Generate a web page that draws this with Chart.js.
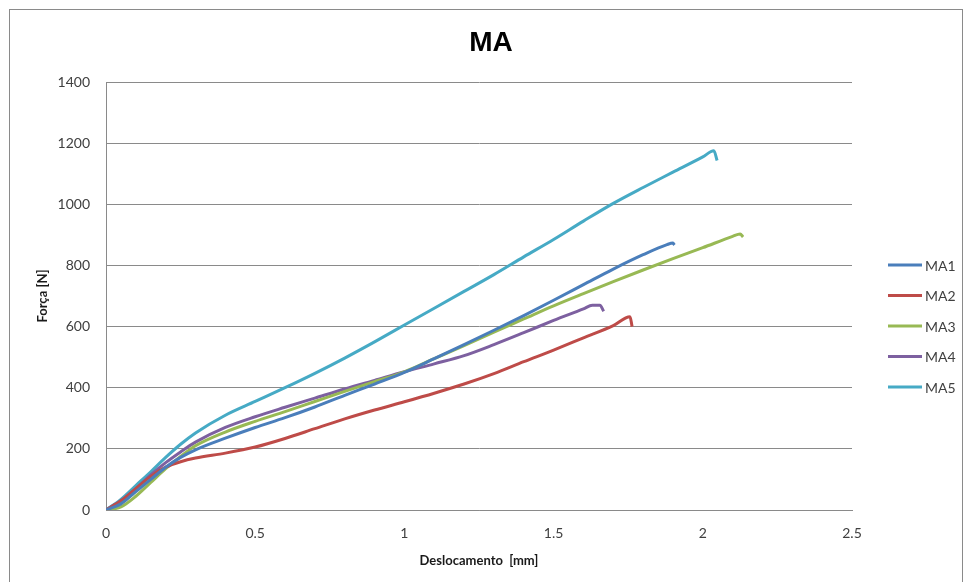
<!DOCTYPE html>
<html>
<head>
<meta charset="utf-8">
<script src="https://cdn.jsdelivr.net/npm/chart.js@4/dist/chart.umd.min.js"></script>
<style>
  html, body { margin: 0; padding: 0; background: #ffffff; }
  #wrap { width: 966px; height: 582px; position: relative; }
</style>
</head>
<body>
<div id="wrap"><canvas id="c" width="966" height="582"></canvas></div>
<script>
// Displacement [mm] and force [N] readings for each specimen
const ma1Disp  = [0, 0.05, 0.1, 0.15, 0.2, 0.25, 0.3, 0.4, 0.5, 0.6, 0.7, 0.8, 0.9, 1.0, 1.1, 1.2, 1.3, 1.4, 1.5, 1.6, 1.7, 1.8, 1.88, 1.9, 1.905];
const ma1Force = [0, 20, 60, 100, 140, 172, 197, 235, 270, 302, 337, 375, 412, 450, 495, 541, 588, 636, 686, 737, 788, 835, 868, 873, 867];

const ma2Disp  = [0, 0.05, 0.1, 0.15, 0.2, 0.25, 0.3, 0.4, 0.5, 0.6, 0.7, 0.8, 0.9, 1.0, 1.1, 1.2, 1.3, 1.4, 1.5, 1.6, 1.7, 1.756, 1.763];
const ma2Force = [0, 30, 70, 110, 140, 158, 170, 186, 206, 234, 266, 298, 327, 354, 382, 412, 446, 485, 523, 563, 603, 632, 600];

const ma3Disp  = [0, 0.05, 0.1, 0.15, 0.2, 0.25, 0.3, 0.4, 0.5, 0.6, 0.7, 0.8, 0.9, 1.0, 1.1, 1.2, 1.3, 1.4, 1.5, 1.6, 1.7, 1.8, 1.9, 2.0, 2.1, 2.125, 2.135];
const ma3Force = [0, 10, 45, 90, 135, 175, 210, 255, 290, 322, 355, 388, 420, 452, 495, 538, 582, 625, 668, 708, 747, 785, 822, 858, 895, 903, 893];

const ma4Disp  = [0, 0.05, 0.1, 0.15, 0.2, 0.25, 0.3, 0.4, 0.5, 0.6, 0.7, 0.8, 0.9, 1.0, 1.1, 1.2, 1.3, 1.4, 1.5, 1.6, 1.63, 1.655, 1.668];
const ma4Force = [0, 30, 70, 115, 155, 190, 222, 270, 305, 336, 366, 396, 424, 452, 478, 505, 541, 580, 620, 658, 670, 670, 650];

const ma5Disp  = [0, 0.05, 0.1, 0.15, 0.2, 0.25, 0.3, 0.4, 0.5, 0.6, 0.7, 0.8, 0.9, 1.0, 1.1, 1.2, 1.3, 1.4, 1.5, 1.6, 1.7, 1.8, 1.9, 2.0, 2.037, 2.048];
const ma5Force = [0, 35, 80, 125, 172, 215, 252, 310, 355, 400, 447, 497, 550, 605, 660, 715, 770, 828, 885, 945, 1003, 1055, 1105, 1155, 1175, 1143];

const seriesNames  = ['MA1', 'MA2', 'MA3', 'MA4', 'MA5'];
const seriesColors = ['#4A7EBB', '#BE4B48', '#98B954', '#7D60A0', '#46AAC5'];
const xTickValues  = [0, 0.5, 1, 1.5, 2, 2.5];
const yTickValues  = [0, 200, 400, 600, 800, 1000, 1200, 1400];

const dispSets  = [ma1Disp, ma2Disp, ma3Disp, ma4Disp, ma5Disp];
const forceSets = [ma1Force, ma2Force, ma3Force, ma4Force, ma5Force];

const datasets = seriesNames.map((name, i) => ({
  label: name,
  data: dispSets[i].map((d, k) => ({ x: d, y: forceSets[i][k] })),
  borderColor: seriesColors[i],
  backgroundColor: seriesColors[i],
  borderWidth: 3,
  pointRadius: 0,
  cubicInterpolationMode: 'monotone',
  fill: false
}));

const FONT = 'Lato, "Open Sans", "Liberation Sans", sans-serif';
const TEXT = '#404040';
const plainLabel = v => String(v);

// Outer frame around the whole chart
const framePlugin = {
  id: 'frame',
  beforeDraw(chart) {
    const ctx = chart.ctx;
    ctx.save();
    ctx.fillStyle = '#ffffff';
    ctx.fillRect(0, 0, chart.width, chart.height);
    ctx.strokeStyle = '#8a8a8a';
    ctx.lineWidth = 1;
    ctx.strokeRect(9.5, 9.5, 953, 600);
    ctx.restore();
  }
};

// Legend on the right: short line sample followed by the series name
const sideLegend = {
  id: 'sideLegend',
  afterDraw(chart) {
    const ctx = chart.ctx;
    ctx.save();
    chart.data.datasets.forEach((ds, i) => {
      const y = 265 + i * 30.5;
      ctx.strokeStyle = ds.borderColor;
      ctx.lineWidth = 3;
      ctx.beginPath();
      ctx.moveTo(888, y);
      ctx.lineTo(922, y);
      ctx.stroke();
      ctx.fillStyle = TEXT;
      ctx.font = '14px ' + FONT;
      ctx.textAlign = 'left';
      ctx.textBaseline = 'middle';
      ctx.fillText(ds.label, 925, y + 1);
    });
    ctx.restore();
  }
};

new Chart(document.getElementById('c'), {
  type: 'line',
  data: { datasets },
  plugins: [framePlugin, sideLegend],
  options: {
    responsive: false,
    animation: false,
    events: [],
    layout: { padding: { left: 16, right: 0, top: 0, bottom: 0 } },
    plugins: {
      legend: { display: false },
      tooltip: { enabled: false },
      title: {
        display: true,
        text: 'MA',
        color: '#000000',
        font: { family: '"Liberation Sans", Arial, sans-serif', size: 28, weight: 'bold', lineHeight: 1.2 },
        padding: { top: 26, bottom: 22.4 }
      }
    },
    scales: {
      x: {
        type: 'linear',
        min: 0,
        max: 2.5,
        afterBuildTicks(scale) { scale.ticks = xTickValues.map(v => ({ value: v })); },
        afterFit(scale) { scale.height = 72; },
        grid: { display: false, drawTicks: false },
        border: { display: true, color: '#8a8a8a', width: 1 },
        ticks: { color: TEXT, font: { family: FONT, size: 14 }, padding: 15, maxRotation: 0, callback: plainLabel },
        title: {
          display: true,
          text: 'Deslocamento  [mm]',
          color: '#1a1a1a',
          font: { family: FONT, size: 13, weight: 'bold', lineHeight: 1.2 },
          padding: { top: 0, bottom: 13 }
        }
      },
      y: {
        type: 'linear',
        min: 0,
        max: 1400,
        afterBuildTicks(scale) { scale.ticks = yTickValues.map(v => ({ value: v })); },
        afterFit(scale) { scale.width = 90; },
        grid: { display: true, color: '#8a8a8a', lineWidth: 1, drawTicks: false },
        border: { display: true, color: '#8a8a8a', width: 1 },
        ticks: { color: TEXT, font: { family: FONT, size: 14 }, padding: 16, callback: plainLabel },
        title: {
          display: true,
          text: 'Força [N]',
          color: '#1a1a1a',
          font: { family: FONT, size: 13, weight: 'bold', lineHeight: 1.2 },
          padding: { top: 19, bottom: 0 }
        }
      },
      // empty right-hand axis that reserves the space holding the legend
      legendSpace: {
        type: 'linear',
        position: 'right',
        min: 0,
        max: 1,
        afterFit(scale) { scale.width = 114; },
        grid: { display: false, drawTicks: false },
        border: { display: false },
        ticks: { display: false }
      }
    }
  }
});
</script>
</body>
</html>
